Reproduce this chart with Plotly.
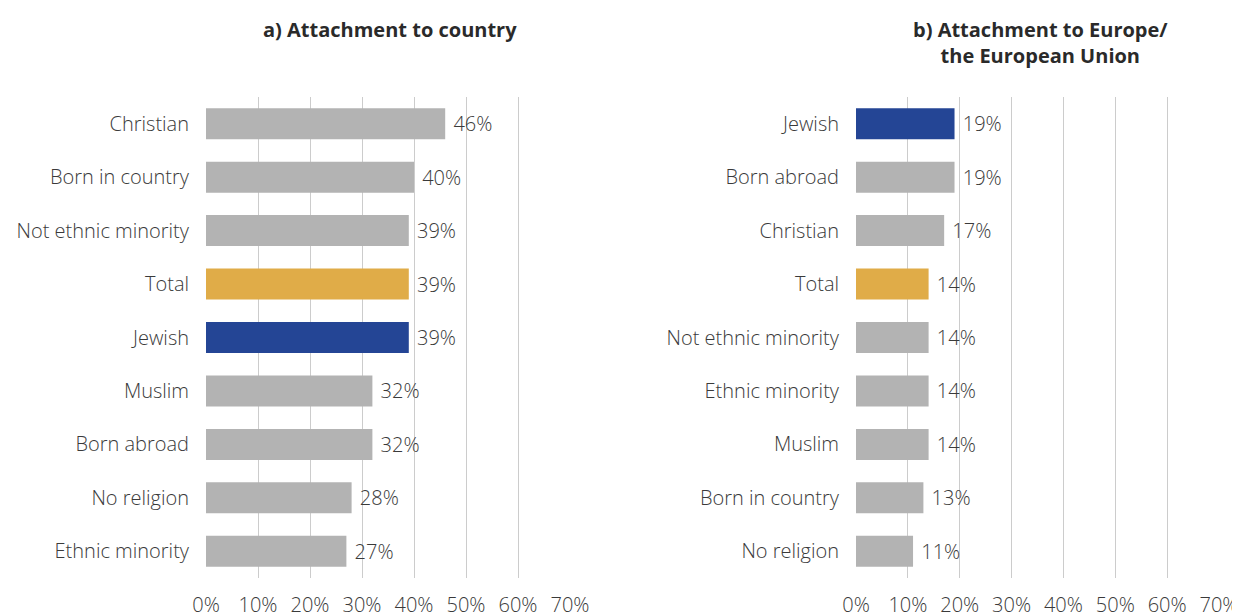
import plotly.graph_objects as go

# a) Attachment to country
country_groups = ["Christian", "Born in country", "Not ethnic minority", "Total", "Jewish",
                  "Muslim", "Born abroad", "No religion", "Ethnic minority"]
country_values = [46, 40, 39, 39, 39, 32, 32, 28, 27]

# b) Attachment to Europe / the European Union
europe_groups = ["Jewish", "Born abroad", "Christian", "Total", "Not ethnic minority",
                 "Ethnic minority", "Muslim", "Born in country", "No religion"]
europe_values = [19, 19, 17, 14, 14, 14, 14, 13, 11]

tick_vals = [0, 10, 20, 30, 40, 50, 60, 70]
tick_text = [f"{v}%" for v in tick_vals]

GREY = "#b3b3b3"
GOLD = "#e0ac48"
BLUE = "#244595"
TEXT = "#3a3a3a"
FONT = "Open Sans"


def bar_colors(groups):
    cols = []
    for g in groups:
        if g == "Total":
            cols.append(GOLD)
        elif g == "Jewish":
            cols.append(BLUE)
        else:
            cols.append(GREY)
    return cols


label_font = dict(size=20, color=TEXT, family=FONT, weight=300)

fig = go.Figure()

fig.add_trace(go.Bar(
    x=country_values, y=country_groups, orientation="h",
    marker=dict(color=bar_colors(country_groups), line=dict(width=0)),
    width=0.58,
    text=[f" {v}%" for v in country_values], textposition="outside",
    textfont=label_font,
    cliponaxis=False, xaxis="x", yaxis="y", showlegend=False,
))
fig.add_trace(go.Bar(
    x=europe_values, y=europe_groups, orientation="h",
    marker=dict(color=bar_colors(europe_groups), line=dict(width=0)),
    width=0.58,
    text=[f" {v}%" for v in europe_values], textposition="outside",
    textfont=label_font,
    cliponaxis=False, xaxis="x2", yaxis="y2", showlegend=False,
))

# the page body adds an 8px margin, so the figure is laid out in shifted pixels
OFF = 8
W, H = 1240 - OFF, 614 - OFF


def px_x(v):
    return (v - OFF) / W


def px_y(v):
    return 1 - (v - OFF) / H


y_dom = [px_y(578), px_y(97)]

xaxis_style = dict(
    range=[0, 70], tickvals=tick_vals, ticktext=tick_text,
    showgrid=True, gridcolor="#cccccc", gridwidth=1, zeroline=False,
    showline=False, ticks="outside", ticklen=9, tickcolor="rgba(0,0,0,0)",
    tickfont=label_font, automargin=False,
    fixedrange=True,
)
yaxis_style = dict(
    autorange="reversed", showgrid=False, zeroline=False, showline=False,
    ticks="outside", ticklen=12, tickcolor="rgba(0,0,0,0)",
    tickfont=label_font, automargin=False,
    fixedrange=True,
)

title_font = dict(size=20, color="#2a2a2a", family=FONT, weight=700)

fig.update_layout(
    width=W, height=H,
    margin=dict(l=0, r=0, t=0, b=0, autoexpand=False),
    paper_bgcolor="white", plot_bgcolor="white",
    font=dict(family=FONT, color=TEXT),
    xaxis=dict(domain=[px_x(206), px_x(570)], anchor="y", **xaxis_style),
    yaxis=dict(domain=y_dom, anchor="x", **yaxis_style),
    xaxis2=dict(domain=[px_x(856), px_x(1219)], anchor="y2", **xaxis_style),
    yaxis2=dict(domain=y_dom, anchor="x2", **yaxis_style),
    annotations=[
        dict(text="a) Attachment to country", x=px_x(390), y=px_y(30),
             xanchor="center", yanchor="middle",
             xref="paper", yref="paper", showarrow=False, font=title_font),
        dict(text="b) Attachment to Europe/<br>the European Union", x=px_x(1040), y=px_y(42),
             xanchor="center", yanchor="middle",
             xref="paper", yref="paper", showarrow=False, font=title_font),
    ],
)

fig.write_html("out.html")
